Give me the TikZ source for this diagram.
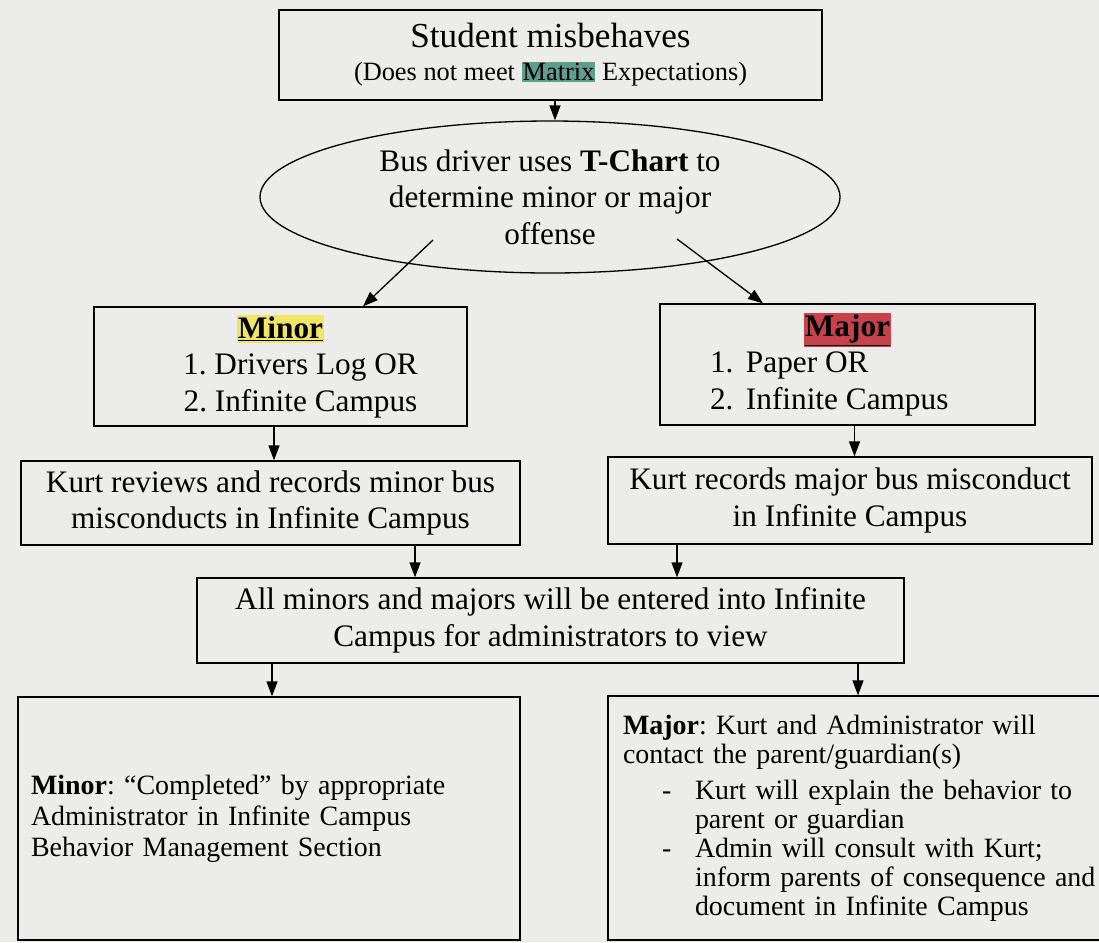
\documentclass[tikz,border=0pt]{standalone}
\usepackage{fontspec}
\setmainfont{Liberation Serif}
\usepackage{xcolor}
\usetikzlibrary{positioning,shapes.geometric,arrows.meta}
\definecolor{paper}{RGB}{236,236,235}
\definecolor{matrixhl}{RGB}{94,158,140}
\definecolor{minorhl}{RGB}{240,230,100}
\definecolor{majorhl}{RGB}{200,66,76}
\newcommand{\hilite}[2]{{\setlength{\fboxsep}{0.6pt}\colorbox{#1}{#2}}}

\begin{document}
\frenchspacing
\begin{tikzpicture}[
    box/.style={draw, line width=0.75pt, rectangle, inner sep=0pt, align=center, font=\fontsize{17.8}{20.8}\selectfont},
    arr/.style={-{Triangle[length=0.3cm,width=0.22cm]}, line width=0.75pt}]
    \fill[paper] (0,0) rectangle (21.98,-18.84);
    \useasboundingbox (0,0) rectangle (21.98,-18.84);
    \node[box, minimum width=10.86cm, minimum height=1.80cm, font=\fontsize{15}{18.8}\selectfont] (misbehave) at (11.01,-1.10) {{\fontsize{20}{24}\selectfont Student misbehaves}\\(Does not meet \hilite{matrixhl}{Matrix} Expectations)};
    \node[box, ellipse, minimum width=11.6cm, minimum height=3.04cm] (tchart) at (11.00,-3.94) {Bus driver uses \textbf{T-Chart} to\\determine minor or major\\offense};
    \node[box, minimum width=7.46cm, minimum height=2.38cm] (minor) at (5.61,-7.33) {\hilite{minorhl}{\textbf{\underline{Minor}}}\\\hspace*{0.8cm}1. Drivers Log OR\\\hspace*{0.8cm}2. Infinite Campus};
    \node[box, minimum width=7.50cm, minimum height=2.42cm] (major) at (16.95,-7.29) {\hilite{majorhl}{\textbf{\underline{Major}}}\\\makebox[5.5cm][l]{\makebox[0.72cm][l]{1.}Paper OR}\\\makebox[5.5cm][l]{\makebox[0.72cm][l]{2.}Infinite Campus}};
    \node[box, minimum width=9.98cm, minimum height=1.68cm] (minorlog) at (5.41,-10.06) {Kurt reviews and records minor bus\\misconducts in Infinite Campus};
    \node[box, minimum width=9.68cm, minimum height=1.74cm] (majorlog) at (17.00,-10.01) {Kurt records major bus misconduct\\in Infinite Campus};
    \node[box, minimum width=14.14cm, minimum height=1.70cm] (entered) at (11.01,-12.41) {All minors and majors will be entered into Infinite\\Campus for administrators to view};
    \node[box, minimum width=10.04cm, minimum height=4.86cm, text width=9.52cm, align=left, font=\fontsize{15.9}{17.6}\selectfont] (minorend) at (5.38,-16.37) {\textbf{Minor}: “Completed” by appropriate\\Administrator in Infinite Campus\\Behavior Management Section};
    \node[box, minimum width=10.44cm, minimum height=4.88cm, text width=9.84cm, align=left, font=\fontsize{15.9}{16.5}\selectfont] (majorend) at (17.38,-16.36) {\textbf{Major}: Kurt and Administrator will\\contact the parent/guardian(s)\\[0.14cm]\makebox[1.44cm][l]{\hspace*{0.78cm}-}Kurt will explain the behavior to\\\hspace*{1.44cm}parent or guardian\\\makebox[1.44cm][l]{\hspace*{0.78cm}-}Admin will consult with Kurt;\\\hspace*{1.44cm}inform parents of consequence and\\\hspace*{1.44cm}document in Infinite Campus};
    \coordinate (tcl) at (8.66,-4.80);
    \coordinate (tcr) at (13.54,-4.78);
    \draw[arr] ([xshift=0.09cm]misbehave.south) -- ([xshift=0.09cm]misbehave.south |- tchart.north);
    \draw[arr] (tcl) -- ([xshift=1.65cm]minor.north);
    \draw[arr] (tcr) -- ([xshift=-1.69cm]major.north);
    \draw[arr] ([xshift=-0.13cm]minor.south) -- ([xshift=-0.13cm]minor.south |- minorlog.north);
    \draw[arr] ([xshift=0.14cm]major.south) -- ([xshift=0.14cm]major.south |- majorlog.north);
    \draw[arr] ([xshift=2.89cm]minorlog.south) -- ([xshift=2.89cm]minorlog.south |- entered.north);
    \draw[arr] ([xshift=-3.46cm]majorlog.south) -- ([xshift=-3.46cm]majorlog.south |- entered.north);
    \draw[arr] ([xshift=-5.57cm]entered.south) -- ([xshift=-5.57cm]entered.south |- minorend.north);
    \draw[arr] ([xshift=6.15cm]entered.south) -- ([xshift=6.15cm]entered.south |- majorend.north);
\end{tikzpicture}
\end{document}
